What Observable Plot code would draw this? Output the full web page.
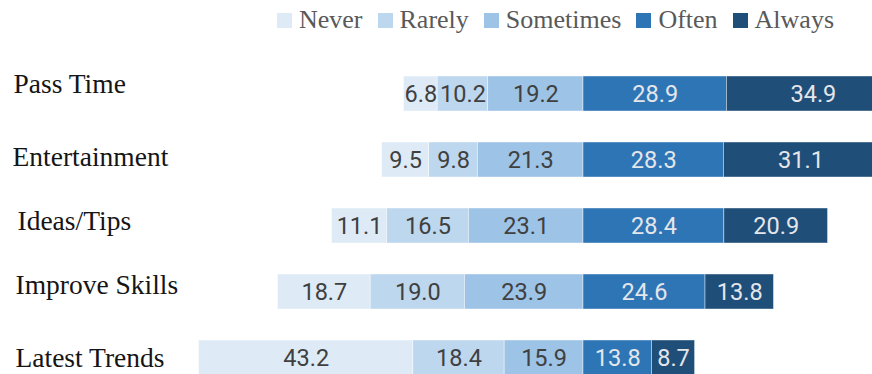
<!DOCTYPE html>
<html>
<head>
<meta charset="utf-8">
<script src="https://cdn.jsdelivr.net/npm/d3@7"></script>
<script src="https://cdn.jsdelivr.net/npm/@observablehq/plot@0.6"></script>
<style>
  html, body { margin: 0; padding: 0; background: white; }
  #chart { width: 872px; height: 374px; overflow: hidden; }
  .legend {
    display: flex; align-items: center; height: 40px; box-sizing: border-box;
    padding-left: 277px; font-family: "Liberation Serif", serif; font-size: 26px; color: #595959;
  }
  .legend .item { display: inline-flex; align-items: center; margin-right: 15px; white-space: nowrap; }
  .legend .sw { width: 15px; height: 15px; margin-right: 7px; display: inline-block; }
  svg { display: block; }
</style>
</head>
<body>
<div id="chart"></div>
<script>
// Reasons for use, share of respondents (%) by frequency
const categories = ["Pass Time", "Entertainment", "Ideas/Tips", "Improve Skills", "Latest Trends"];
const levels = ["Never", "Rarely", "Sometimes", "Often", "Always"];
const never     = [6.8, 9.5, 11.1, 18.7, 43.2];
const rarely    = [10.2, 9.8, 16.5, 19.0, 18.4];
const sometimes = [19.2, 21.3, 23.1, 23.9, 15.9];
const often     = [28.9, 28.3, 28.4, 24.6, 13.8];
const always    = [34.9, 31.1, 20.9, 13.8, 8.7];
const colors = ["#deebf7", "#bdd7ee", "#9dc3e6", "#2e75b6", "#1f4e79"];

// Never/Rarely/Sometimes extend left of zero, Often/Always to the right
const series = [never, rarely, sometimes, often, always];
const negative = new Set(["Never", "Rarely", "Sometimes"]);
const rows = categories.flatMap((category, i) =>
  levels.map((level, j) => ({
    category, level,
    value: series[j][i],
    signed: negative.has(level) ? -series[j][i] : series[j][i]
  }))
);
const stackOrder = ["Sometimes", "Rarely", "Never", "Often", "Always"];
const darkLevels = new Set(["Often", "Always"]);

// per-label offsets of the row titles (dx, dy from band centre baseline)
const titleNudge = [[13, -1.5], [12, 6.2], [17, 4], [15, 1.7], [15, 8.5]];

const legend = d3.create("div").attr("class", "legend");
levels.forEach((lv, i) => {
  const item = legend.append("span").attr("class", "item");
  item.append("span").attr("class", "sw").style("background", colors[i]);
  item.append("span").text(lv);
});

const plot = Plot.plot({
  width: 872,
  height: 334,
  marginLeft: 0, marginRight: 0, marginTop: 0, marginBottom: 0,
  x: { domain: [-583 / 4.96, 289 / 4.96], axis: null },
  y: { domain: categories, range: [35, 335.1], paddingInner: 0.47, paddingOuter: 0, axis: null },
  color: { domain: levels, range: colors },
  style: { background: "white", overflow: "hidden" },
  marks: [
    Plot.barX(rows, Plot.stackX({
      x: "signed", y: "category", fill: "level", order: stackOrder,
      stroke: "white", strokeWidth: 0.6, strokeOpacity: 0.7, clip: true
    })),
    Plot.text(rows, Plot.stackX({
      x: "signed", y: "category", z: "level", order: stackOrder,
      text: d => d.value.toFixed(1),
      fill: d => darkLevels.has(d.level) ? "#e4e6ea" : "#404040",
      fontFamily: "Roboto", fontSize: 23.5
    })),
    ...categories.map((c, i) => Plot.text([c], {
      y: d => d, text: d => d, frameAnchor: "left", textAnchor: "start",
      lineAnchor: "bottom", dx: titleNudge[i][0], dy: titleNudge[i][1],
      fontFamily: "Liberation Serif", fontSize: 27.5, fill: "#151515"
    }))
  ]
});

const root = document.getElementById("chart");
root.append(legend.node());
root.append(plot);
</script>
</body>
</html>
